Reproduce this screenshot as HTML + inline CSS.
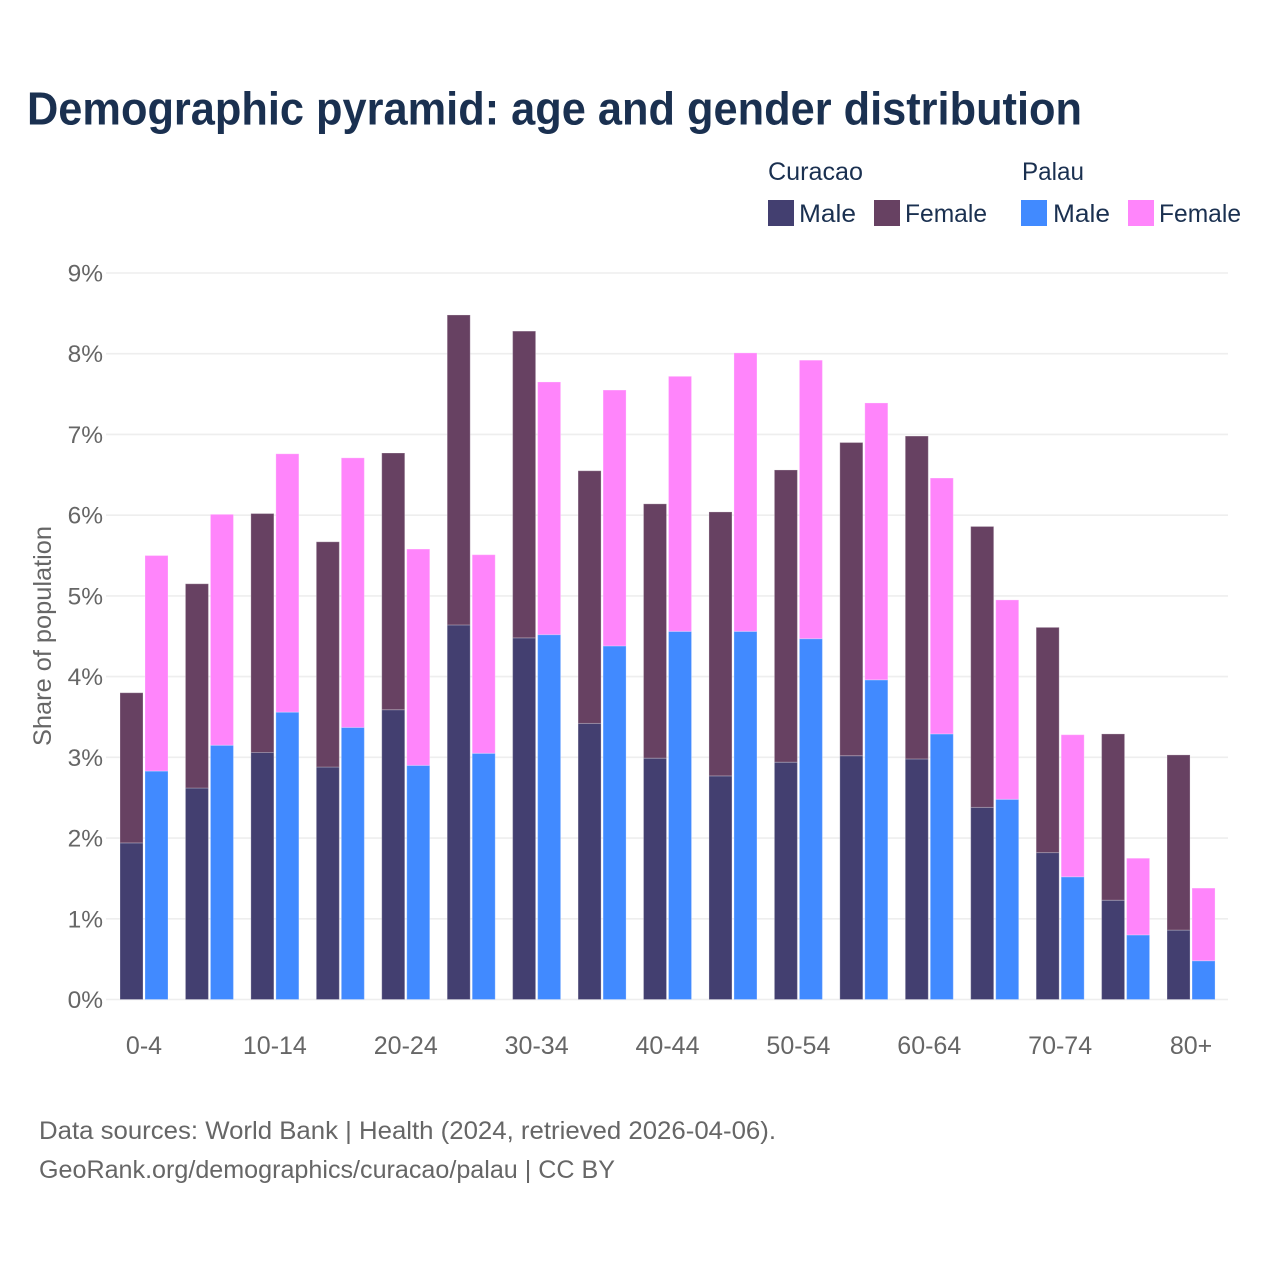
<!DOCTYPE html>
<html lang="en">
<head>
<meta charset="utf-8">
<title>Demographic pyramid: age and gender distribution</title>
<style>
  html, body { margin: 0; padding: 0; background: #ffffff; }
  svg { display: block; font-family: "Liberation Sans", "DejaVu Sans", sans-serif; }
</style>
</head>
<body>
<svg id="chart" xmlns="http://www.w3.org/2000/svg" width="1280" height="1280" viewBox="0 0 1280 1280">
  <rect x="0" y="0" width="1280" height="1280" fill="#ffffff"/>
  <text x="27" y="124.5" font-size="46" font-weight="700" fill="#1a3050" textLength="1055" lengthAdjust="spacingAndGlyphs">Demographic pyramid: age and gender distribution</text>

  <g font-size="25" fill="#1a3050">
    <text x="768" y="180" textLength="95" lengthAdjust="spacingAndGlyphs">Curacao</text>
    <text x="1022" y="180" textLength="62" lengthAdjust="spacingAndGlyphs">Palau</text>
    <rect x="768" y="200" width="26" height="26" fill="#433f70"/>
    <text x="799" y="222" textLength="57" lengthAdjust="spacingAndGlyphs">Male</text>
    <rect x="874" y="200" width="26" height="26" fill="#674162"/>
    <text x="905" y="222" textLength="82" lengthAdjust="spacingAndGlyphs">Female</text>
    <rect x="1021" y="200" width="26" height="26" fill="#418aff"/>
    <text x="1053" y="222" textLength="57" lengthAdjust="spacingAndGlyphs">Male</text>
    <rect x="1128" y="200" width="26" height="26" fill="#ff85fb"/>
    <text x="1159" y="222" textLength="82" lengthAdjust="spacingAndGlyphs">Female</text>
  </g>

  <g id="grid"></g>
  <g id="y-labels"></g>
  <g id="bars"></g>
  <g id="x-labels"></g>

  <text transform="translate(51,636) rotate(-90)" text-anchor="middle" font-size="25" fill="#666666" textLength="220" lengthAdjust="spacingAndGlyphs">Share of population</text>

  <text x="39" y="1139" font-size="25" fill="#666666" textLength="737" lengthAdjust="spacingAndGlyphs">Data sources: World Bank | Health (2024, retrieved 2026-04-06).</text>
  <text x="39" y="1178" font-size="25" fill="#666666" textLength="576" lengthAdjust="spacingAndGlyphs">GeoRank.org/demographics/curacao/palau | CC BY</text>
</svg>
<script>
const categories = ["0-4","5-9","10-14","15-19","20-24","25-29","30-34","35-39","40-44","45-49","50-54","55-59","60-64","65-69","70-74","75-79","80+"];
const curacaoMale = [1.94,2.62,3.06,2.88,3.59,4.64,4.48,3.42,2.99,2.77,2.94,3.02,2.98,2.38,1.82,1.23,0.86];
const curacaoFemale = [1.86,2.53,2.96,2.79,3.18,3.84,3.80,3.13,3.15,3.27,3.62,3.88,4.00,3.48,2.79,2.06,2.17];
const palauMale = [2.83,3.15,3.56,3.37,2.90,3.05,4.52,4.38,4.56,4.56,4.47,3.96,3.29,2.48,1.52,0.80,0.48];
const palauFemale = [2.67,2.86,3.20,3.34,2.68,2.46,3.13,3.17,3.16,3.45,3.45,3.43,3.17,2.47,1.76,0.95,0.90];
const yTickValues = [0,1,2,3,4,5,6,7,8,9];
const yTickLabels = ["0%","1%","2%","3%","4%","5%","6%","7%","8%","9%"];
const xTickLabels = ["0-4","10-14","20-24","30-34","40-44","50-54","60-64","70-74","80+"];

const NS = "http://www.w3.org/2000/svg";
const plotLeft = 106, plotRight = 1228, plotZeroY = 999.5, plotTopY = 273, maxValue = 9;
const bandStart = 120, bandStep = 65.44, barWidth = 23, barGap = 2;

function yScale(v) { return plotZeroY - (v / maxValue) * (plotZeroY - plotTopY); }
function xScale(i) { return bandStart + bandStep * i; }
function xCenter(i) { return xScale(i) + barWidth + barGap / 2; }

const gridGroup = document.getElementById("grid");
const yLabelGroup = document.getElementById("y-labels");
yTickValues.forEach(function (t, i) {
  const line = document.createElementNS(NS, "line");
  
  
  line.setAttribute("x1", plotLeft);
  line.setAttribute("x2", plotRight);
  line.setAttribute("y1", yScale(t));
  line.setAttribute("y2", yScale(t));
  line.setAttribute("stroke", "#eeeeee");
  line.setAttribute("stroke-width", "1.6");
  gridGroup.appendChild(line);

  const label = document.createElementNS(NS, "text");
  
  
  label.setAttribute("x", 103);
  label.setAttribute("y", yScale(t) + 8.5);
  label.setAttribute("text-anchor", "end");
  label.setAttribute("font-size", "24.5");
  label.setAttribute("fill", "#666666");
  label.textContent = yTickLabels[i];
  yLabelGroup.appendChild(label);
});

const barGroup = document.getElementById("bars");
function drawBar(x, base, value, fill) {
  const rect = document.createElementNS(NS, "rect");
  
  
  rect.setAttribute("x", x);
  rect.setAttribute("y", yScale(base + value));
  rect.setAttribute("width", barWidth);
  rect.setAttribute("height", yScale(base) - yScale(base + value));
  rect.setAttribute("fill", fill);
  rect.setAttribute("stroke", "#ffffff");
  rect.setAttribute("stroke-opacity", "0.25");
  rect.setAttribute("stroke-width", "1");
  barGroup.appendChild(rect);
}
categories.forEach(function (c, i) {
  const x1 = xScale(i);
  const x2 = x1 + barWidth + barGap;
  drawBar(x1, 0, curacaoMale[i], "#433f70");
  drawBar(x1, curacaoMale[i], curacaoFemale[i], "#674162");
  drawBar(x2, 0, palauMale[i], "#418aff");
  drawBar(x2, palauMale[i], palauFemale[i], "#ff85fb");
});

const xLabelGroup = document.getElementById("x-labels");
xTickLabels.forEach(function (t) {
  const label = document.createElementNS(NS, "text");
  
  
  label.setAttribute("x", xCenter(categories.indexOf(t)));
  label.setAttribute("y", 1054);
  label.setAttribute("text-anchor", "middle");
  label.setAttribute("font-size", "25");
  label.setAttribute("fill", "#666666");
  label.textContent = t;
  xLabelGroup.appendChild(label);
});
</script>
</body>
</html>
